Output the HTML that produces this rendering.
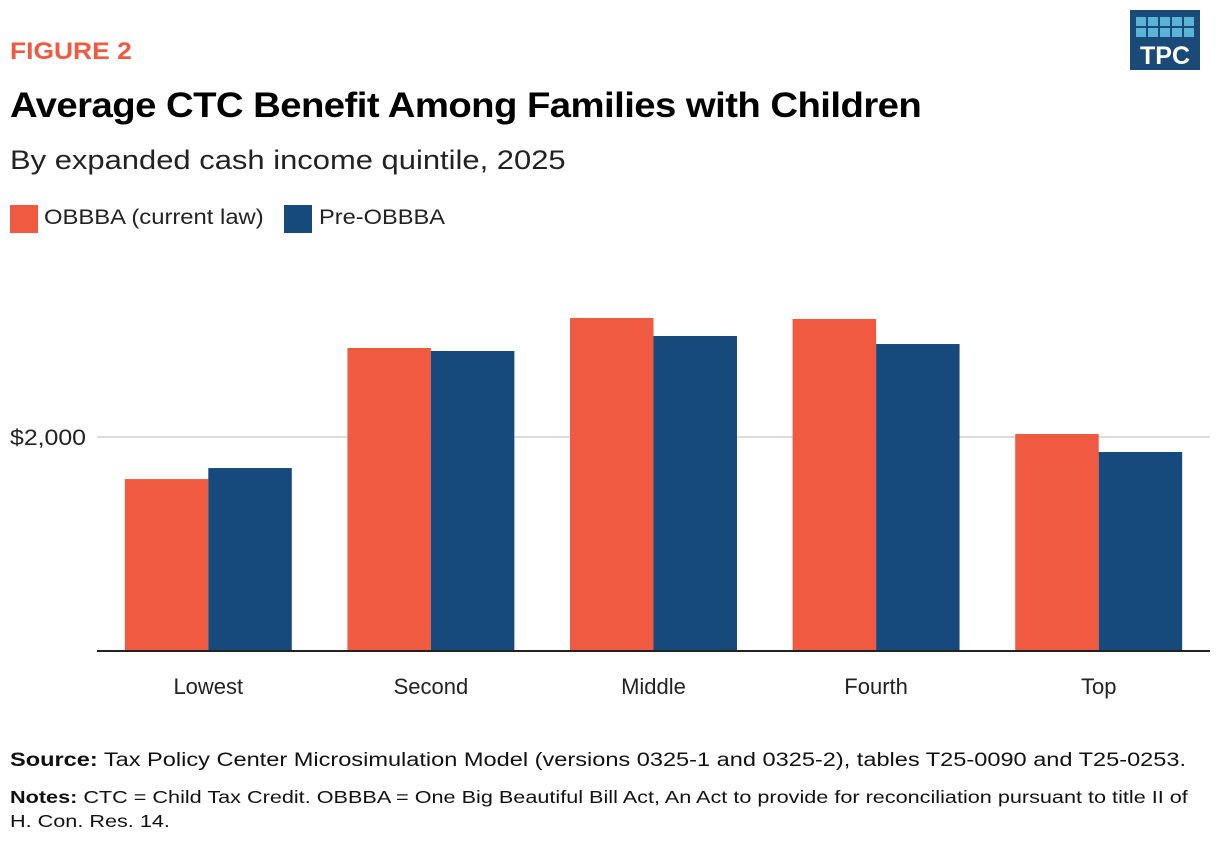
<!DOCTYPE html>
<html><head><meta charset="utf-8"><style>
body{margin:0;width:1220px;height:844px;background:#fff;font-family:"Liberation Sans",sans-serif;position:relative;overflow:hidden}
.t{position:absolute;white-space:nowrap;transform-origin:0 0}
</style></head><body>
<div class="t" style="left:10px;top:38px;font-size:24px;font-weight:bold;color:#f05a40;transform:scaleX(1.1)">FIGURE 2</div>
<div class="t" style="left:10px;top:86px;font-size:35px;font-weight:bold;color:#000;letter-spacing:-0.5px;transform:scaleX(1.094)">Average CTC Benefit Among Families with Children</div>
<div class="t" style="left:10px;top:145px;font-size:27px;color:#222;transform:scaleX(1.146)">By expanded cash income quintile, 2025</div>
<div>
<div class="t" style="left:10px;top:205px;width:28px;height:28px;background:#f05a40"></div>
<div class="t" style="left:44px;top:206px;font-size:21px;color:#222;transform:scaleX(1.134)">OBBBA (current law)</div>
<div class="t" style="left:284px;top:205px;width:28px;height:28px;background:#174a7c"></div>
<div class="t" style="left:319px;top:206px;font-size:21px;color:#222;transform:scaleX(1.125)">Pre-OBBBA</div>
</div>
<div style="position:absolute;left:1130px;top:10px;width:70px;height:60px;background:#1a4a78">
<svg width="70" height="60" style="position:absolute;left:0;top:0">
<g fill="#5ab4d6">
<rect x="6" y="7" width="10" height="9"/><rect x="18" y="7" width="10" height="9"/><rect x="30" y="7" width="10" height="9"/><rect x="42" y="7" width="10" height="9"/><rect x="54" y="7" width="10" height="9"/>
<rect x="6" y="18" width="10" height="9"/><rect x="18" y="18" width="10" height="9"/><rect x="30" y="18" width="10" height="9"/><rect x="42" y="18" width="10" height="9"/><rect x="54" y="18" width="10" height="9"/>
</g>
<text x="35" y="54" text-anchor="middle" fill="#fff" font-size="25" font-weight="bold" font-family="Liberation Sans,sans-serif">TPC</text>
</svg></div>
<svg id="chart" width="1220" height="844" style="position:absolute;left:0;top:0"></svg>
<div class="t" style="left:10px;top:750px;font-size:19px;color:#111;transform:scaleX(1.24)"><b>Source:</b> Tax Policy Center Microsimulation Model (versions 0325-1 and 0325-2), tables T25-0090 and T25-0253.</div>
<div class="t" style="left:10px;top:785px;font-size:17.5px;color:#111;line-height:24px;transform:scaleX(1.236)"><b>Notes:</b> CTC = Child Tax Credit. OBBBA = One Big Beautiful Bill Act, An Act to provide for reconciliation pursuant to title II of<br>H. Con. Res. 14.</div>
<script>
const categories=["Lowest","Second","Middle","Fourth","Top"];
const obbba=[1607,2832,3112,3103,2028];
const preObbba=[1710,2804,2944,2869,1860];
const yTicks=[2000];
const yTickLabels=["$2,000"];
const svg=document.getElementById('chart');
const NS='http://www.w3.org/2000/svg';
const x0=97,x1=1210,yBase=651,pxPer=214/2000;
const band=(x1-x0)/categories.length;
const y=v=>yBase-v*pxPer;
const bx=i=>x0+band*i+band/2;
function mk(t,a){const e=document.createElementNS(NS,t);for(const k in a)e.setAttribute(k,a[k]);svg.appendChild(e);return e;}
yTicks.forEach((t,i)=>{
 const g=mk('line',{x1:x0,x2:x1,y1:y(t),y2:y(t),stroke:'#d0d0d0','stroke-width':1.5});
 
 
 const l=mk('text',{x:10,y:y(t)+8,'font-size':22,fill:'#222','font-family':'Liberation Sans,sans-serif',textLength:76,lengthAdjust:'spacingAndGlyphs'});
 l.textContent=yTickLabels[i];
 
 
});
const bw=band*0.375;
categories.forEach((c,i)=>{
 const cx=bx(i);
 const a=mk('rect',{x:cx-bw,y:y(obbba[i]),width:bw,height:yBase-y(obbba[i]),fill:'#f05a40'});
 
 
 const b=mk('rect',{x:cx,y:y(preObbba[i]),width:bw,height:yBase-y(preObbba[i]),fill:'#174a7c'});
 
 
 const t=mk('text',{x:cx,y:694,'text-anchor':'middle','font-size':22,fill:'#222','font-family':'Liberation Sans,sans-serif'});
 t.textContent=c;
 
 
});
const ax=mk('line',{x1:x0,x2:x1,y1:yBase,y2:yBase,stroke:'#222','stroke-width':2});


</script>
</body></html>
